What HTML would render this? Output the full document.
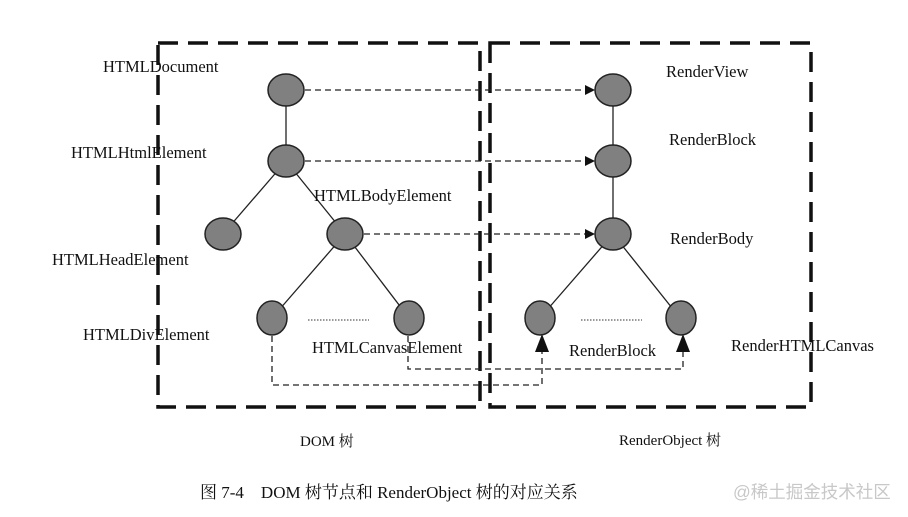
<!DOCTYPE html>
<html><head><meta charset="utf-8"><style>
html,body{margin:0;padding:0;background:#fff;}
svg{display:block}
text{font-family:"Liberation Serif","Noto Serif CJK SC",serif;fill:#111;}
</style></head><body>
<svg width="908" height="517" viewBox="0 0 908 517" xmlns="http://www.w3.org/2000/svg">
<defs>
<marker id="ar" markerWidth="10" markerHeight="10" refX="9" refY="5" orient="auto" markerUnits="userSpaceOnUse">
<path d="M0,0 L10,5 L0,10 z" fill="#111"/></marker>
</defs>
<g fill="none" stroke="#111" stroke-width="3.5" stroke-dasharray="20,10">
<rect x="158" y="43" width="322" height="364"/>
<rect x="490" y="43" width="321" height="364"/>
</g>
<g stroke="#222" stroke-width="1.3" fill="none">
<line x1="286" y1="90" x2="286" y2="161"/>
<line x1="286" y1="161" x2="223" y2="234"/>
<line x1="286" y1="161" x2="345" y2="234"/>
<line x1="345" y1="234" x2="272" y2="318"/>
<line x1="345" y1="234" x2="409" y2="318"/>
<line x1="613" y1="90" x2="613" y2="234"/>
<line x1="613" y1="234" x2="540" y2="318"/>
<line x1="613" y1="234" x2="680" y2="318"/>
</g>
<g stroke="#222" stroke-width="1.3" fill="none" stroke-dasharray="6,4">
<line x1="305" y1="90" x2="594" y2="90" marker-end="url(#ar)"/>
<line x1="305" y1="161" x2="594" y2="161" marker-end="url(#ar)"/>
<line x1="364" y1="234" x2="594" y2="234" marker-end="url(#ar)"/>
<polyline points="272,336 272,385 542,385 542,352"/>
<polyline points="408,336 408,369 683,369 683,352"/>
</g>
<path d="M542,334 L549,352 L535,352 z" fill="#111"/>
<path d="M683,334 L690,352 L676,352 z" fill="#111"/>
<g stroke="#333" stroke-width="1" stroke-dasharray="1.5,1.5">
<line x1="308" y1="320" x2="369" y2="320"/>
<line x1="581" y1="320" x2="642" y2="320"/>
</g>
<g fill="#808080" stroke="#222" stroke-width="1.5">
<ellipse cx="286" cy="90" rx="18" ry="16"/>
<ellipse cx="286" cy="161" rx="18" ry="16"/>
<ellipse cx="223" cy="234" rx="18" ry="16"/>
<ellipse cx="345" cy="234" rx="18" ry="16"/>
<ellipse cx="272" cy="318" rx="15" ry="17"/>
<ellipse cx="409" cy="318" rx="15" ry="17"/>
<ellipse cx="613" cy="90" rx="18" ry="16"/>
<ellipse cx="613" cy="161" rx="18" ry="16"/>
<ellipse cx="613" cy="234" rx="18" ry="16"/>
<ellipse cx="540" cy="318" rx="15" ry="17"/>
<ellipse cx="681" cy="318" rx="15" ry="17"/>
</g>
<g font-size="16.5">
<text x="103" y="72">HTMLDocument</text>
<text x="71" y="158">HTMLHtmlElement</text>
<text x="314" y="201">HTMLBodyElement</text>
<text x="52" y="265">HTMLHeadElement</text>
<text x="83" y="340">HTMLDivElement</text>
<text x="312" y="353">HTMLCanvasElement</text>
<text x="666" y="77">RenderView</text>
<text x="669" y="145">RenderBlock</text>
<text x="670" y="244">RenderBody</text>
<text x="569" y="356">RenderBlock</text>
<text x="731" y="351">RenderHTMLCanvas</text>
</g>
<g font-size="15">
<text x="300" y="446">DOM 树</text>
<text x="619" y="445">RenderObject 树</text>
</g>
<text x="200" y="498" font-size="17">图 7-4　DOM 树节点和 RenderObject 树的对应关系</text>
<text x="733" y="498" font-size="17.5" style="fill:#c8c8c8;font-family:'Liberation Sans','Noto Sans CJK SC',sans-serif">@稀土掘金技术社区</text>
</svg>
</body></html>
